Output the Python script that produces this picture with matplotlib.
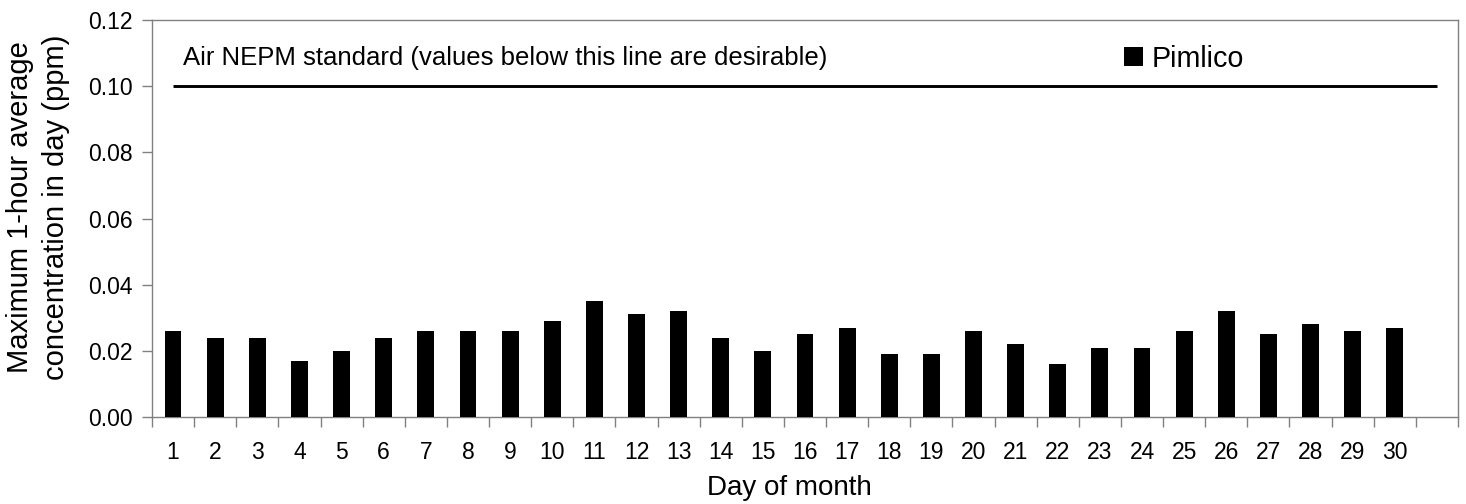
import matplotlib
matplotlib.use("Agg")
import matplotlib.pyplot as plt
import numpy as np

plt.rcParams['font.family'] = ['Liberation Sans', 'DejaVu Sans']

days = [str(d) for d in range(1, 31)] + ['']
pimlico = [0.026, 0.024, 0.024, 0.017, 0.020, 0.024, 0.026, 0.026, 0.026, 0.029,
           0.035, 0.031, 0.032, 0.024, 0.020, 0.025, 0.027, 0.019, 0.019, 0.026,
           0.022, 0.016, 0.021, 0.021, 0.026, 0.032, 0.025, 0.028, 0.026, 0.027,
           np.nan]
standard = [0.10] * 31
y_ticks = [0.00, 0.02, 0.04, 0.06, 0.08, 0.10, 0.12]

W, H = 1466, 504
fig = plt.figure(figsize=(W / 100, H / 100), dpi=100)
ax = fig.add_axes([152/W, 1 - 417/H, (1458-152)/W, (417-20)/H])

x = np.arange(len(days))
ax.bar(x, pimlico, width=0.4, color='black', label='Pimlico', zorder=3)
ax.plot(x, standard, color='black', lw=2.1, solid_capstyle='butt', zorder=4)

ax.set_xlim(-0.5, len(days) - 0.5)
ax.set_ylim(0, 0.12)
ax.set_yticks(y_ticks)
ax.set_yticklabels([f"{v:.2f}" for v in y_ticks], fontsize=16.5)

ax.set_xticks(np.arange(len(days) + 1) - 0.5)
ax.set_xticklabels([])
ax.set_xticks(x, minor=True)
ax.set_xticklabels(days, minor=True, fontsize=16.5)
ax.tick_params(axis='x', which='minor', length=0, pad=17)
ax.tick_params(axis='x', which='major', length=7, color='#808080', width=1)
ax.tick_params(axis='y', length=7, color='#808080', width=1, pad=7)

for s in ax.spines.values():
    s.set_color('#808080')
    s.set_linewidth(1)

fig.text(789/W, 1 - 488/H, 'Day of month', fontsize=20, ha='center', va='center')
fig.text(38/W, 1 - 207/H, 'Maximum 1-hour average\nconcentration in day (ppm)',
         fontsize=21, rotation=90, ha='center', va='center', multialignment='center',
         linespacing=1.35)

ax.text(0.236, 0.1085, 'Air NEPM standard (values below this line are desirable)',
        fontsize=18.5, va='center', ha='left')

ax.legend(loc='center left', bbox_to_anchor=((1124-152)/1306, 1 - (59-20)/397),
          frameon=False, fontsize=20.7, handlelength=0.65, handleheight=0.65,
          handletextpad=0.3, borderpad=0, borderaxespad=0)

fig.savefig('out.png', dpi=100)
